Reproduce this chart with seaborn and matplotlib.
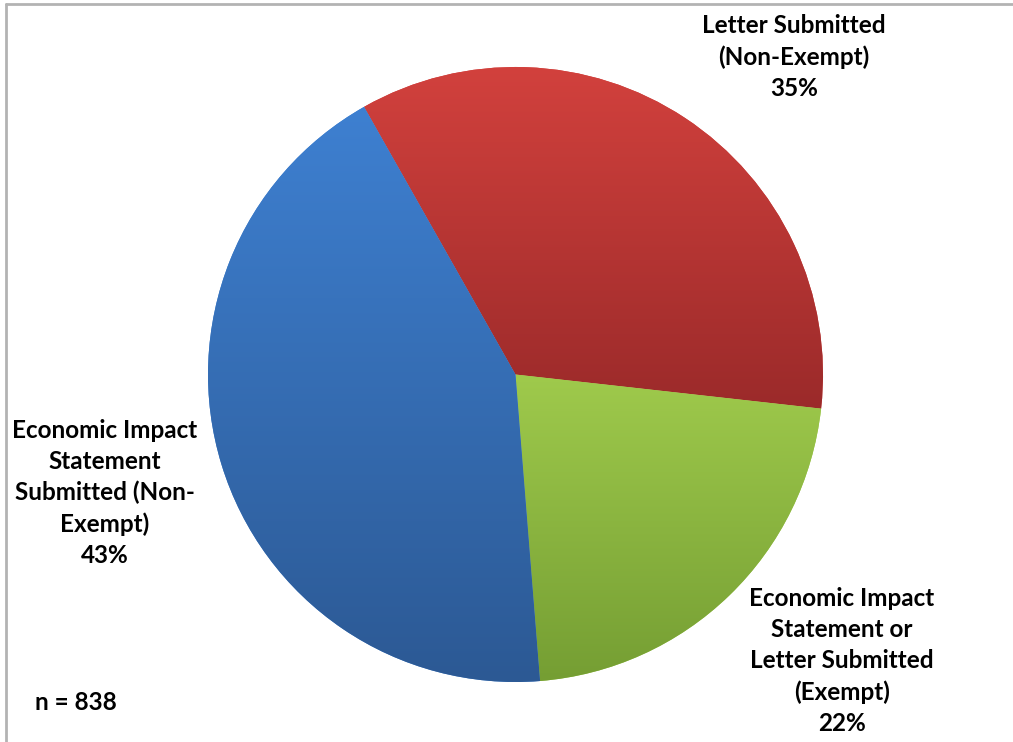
import numpy as np
import seaborn as sns
import matplotlib.pyplot as plt
from matplotlib.lines import Line2D

# data
categories = ["Letter Submitted\n(Non-Exempt)",
              "Economic Impact\nStatement or\nLetter Submitted\n(Exempt)",
              "Economic Impact\nStatement\nSubmitted (Non-\nExempt)"]
counts = [293, 184, 361]
n_total = 838
# gradient colours per slice (top, bottom)
top_colors = ["#d2413d", "#9fca4c", "#3e80d1"]
bottom_colors = ["#9b2a2a", "#759e33", "#2c5994"]

sns.set_theme(style="white")
plt.rcParams['font.family'] = ['Lato', 'DejaVu Sans']

W, H = 1013, 742
fig = plt.figure(figsize=(W / 100, H / 100), dpi=100)
ax = fig.add_axes([0, 0, 1, 1])

cx, cy, r = 515.5, H - 374.5, 307.5
wedges, _ = ax.pie(counts, colors=top_colors, startangle=119.5, counterclock=False,
                   center=(cx, cy), radius=r, wedgeprops=dict(linewidth=0))

# vertical gradient fill for every slice
grad = np.linspace(0, 1, 256).reshape(-1, 1)
for w, c0, c1 in zip(wedges, top_colors, bottom_colors):
    cmap = sns.blend_palette([c0, c1], n_colors=256, as_cmap=True)
    ext = w.get_path().get_extents()
    im = ax.imshow(grad, cmap=cmap, aspect='auto', origin='upper',
                   extent=[ext.x0, ext.x1, ext.y0, ext.y1], zorder=2,
                   interpolation='bilinear')
    im.set_clip_path(w)

ax.set_xlim(0, W)
ax.set_ylim(0, H)
ax.set_axis_off()

# percentage labels
total = sum(counts)
pcts = [round(100 * c / total) for c in counts]
label_pos = [(794, 57), (842, 661), (105, 493)]
for (x, y), cat, p in zip(label_pos, categories, pcts):
    ax.text(x, H - y, f"{cat}\n{p}%", ha='center', va='center', fontsize=17.5,
            fontweight='bold', linespacing=1.42, color='black', zorder=5)

ax.text(76, H - 703, f"n = {n_total}", ha='center', va='center', fontsize=17.5,
        fontweight='bold', color='black', zorder=5)

# chart-area border (top and left visible)
ax.add_line(Line2D([6, W], [H - 4, H - 4], color='#b3b3b3', lw=2, zorder=6))
ax.add_line(Line2D([6, 6], [0, H - 4], color='#b3b3b3', lw=2, zorder=6))

fig.savefig("out.png", dpi=100)
